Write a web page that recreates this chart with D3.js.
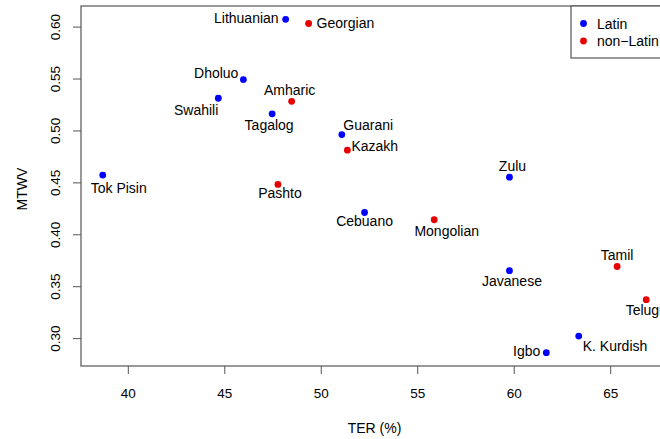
<!DOCTYPE html>
<html>
<head>
<meta charset="utf-8">
<script src="https://cdn.jsdelivr.net/npm/d3@7"></script>
<style>
  html, body { margin: 0; padding: 0; background: #fff; }
  svg { display: block; font-family: 'Liberation Sans', Arial, Helvetica, sans-serif; }
</style>
</head>
<body>
<div id="chart"></div>
<script>
// languages: TER (%) vs MTWV, coloured by script
const languages = ['Lithuanian', 'Georgian', 'Dholuo', 'Swahili', 'Amharic', 'Tagalog', 'Tok Pisin',
  'Pashto', 'Guarani', 'Kazakh', 'Zulu', 'Cebuano', 'Mongolian', 'Javanese', 'Tamil', 'Telugu',
  'K. Kurdish', 'Igbo'];
const ter = [48.18, 49.37, 45.99, 44.69, 48.49, 47.48, 38.70, 47.78, 51.09, 51.38, 59.78, 52.27,
  55.88, 59.78, 65.36, 66.87, 63.37, 61.69];
const mtwv = [0.607, 0.603, 0.549, 0.531, 0.528, 0.516, 0.457, 0.448, 0.496, 0.481, 0.455, 0.421,
  0.414, 0.365, 0.369, 0.337, 0.302, 0.286];
const script = ['Latin', 'non-Latin', 'Latin', 'Latin', 'non-Latin', 'Latin', 'Latin', 'non-Latin',
  'Latin', 'non-Latin', 'Latin', 'Latin', 'non-Latin', 'Latin', 'non-Latin', 'non-Latin', 'Latin', 'Latin'];
const legendLabels = ['Latin', 'non\u2212Latin'];
const xTicks = [40, 45, 50, 55, 60, 65];
const yTicks = [0.30, 0.35, 0.40, 0.45, 0.50, 0.55, 0.60];

// label placement next to each point: [dx, dy, anchor]
const labelPos = {
  'Lithuanian': [-7, -1, 'end'], 'Georgian': [8, 0, 'start'], 'Dholuo': [-5, -7, 'end'],
  'Swahili': [0, 12, 'end'], 'Amharic': [-2, -11, 'middle'], 'Tagalog': [-3, 11, 'middle'],
  'Tok Pisin': [-12, 12.5, 'start'], 'Pashto': [2, 9, 'middle'], 'Guarani': [1.5, -10, 'start'],
  'Kazakh': [4, -4, 'start'], 'Zulu': [3, -11, 'middle'], 'Cebuano': [0, 9, 'middle'],
  'Mongolian': [12.5, 11, 'middle'], 'Javanese': [2.5, 10, 'middle'], 'Tamil': [0, -11, 'middle'],
  'Telugu': [0, 10, 'middle'], 'K. Kurdish': [4, 10, 'start'], 'Igbo': [-6, -2, 'end'],
};

const W = 660, H = 439;
const margin = { top: 6, right: -8, bottom: 73, left: 81 };
const innerW = W - margin.left - margin.right;
const innerH = H - margin.top - margin.bottom;
const color = d => d === 'Latin' ? '#0000ff' : '#e60000';
const axisCol = '#555';

const svg = d3.select('#chart').append('svg').attr('width', W).attr('height', H);
const g = svg.append('g').attr('transform', `translate(${margin.left},${margin.top})`);

// R-style 4% padding around the data range
const xPad = (d3.max(ter) - d3.min(ter)) * 0.04;
const yPad = (d3.max(mtwv) - d3.min(mtwv)) * 0.04;
const x = d3.scaleLinear().domain([d3.min(ter) - xPad, d3.max(ter) + xPad]).range([0, innerW]);
const y = d3.scaleLinear().domain([d3.min(mtwv) - yPad, d3.max(mtwv) + yPad]).range([innerH, 0]);

// axes
const xa = g.append('g').attr('transform', `translate(0,${innerH})`)
  .call(d3.axisBottom(x).tickValues(xTicks).tickSize(8).tickSizeOuter(0).tickPadding(14));
const ya = g.append('g')
  .call(d3.axisLeft(y).tickValues(yTicks).tickFormat(d3.format('.2f')).tickSize(8).tickSizeOuter(0));
[xa, ya].forEach(a => {
  a.select('.domain').remove();
  a.selectAll('line').attr('stroke', axisCol);
  a.selectAll('text').style('font-size', '13.5px').attr('fill', '#000')
    .style('font-family', "'Liberation Sans', Arial, sans-serif");
});
ya.selectAll('text')
  .attr('x', null).attr('dy', null).attr('text-anchor', 'middle')
  .attr('transform', 'translate(-26,0) rotate(-90)').attr('dominant-baseline', 'central');

// plot box
g.append('rect').attr('x', 0).attr('y', 0).attr('width', innerW).attr('height', innerH)
  .attr('fill', 'none').attr('stroke', axisCol).attr('stroke-width', 1.2);

// axis titles
svg.append('text').attr('x', margin.left + innerW / 2).attr('y', 428)
  .attr('text-anchor', 'middle').attr('dominant-baseline', 'central')
  .style('font-size', '14px').text('TER (%)');
svg.append('text').attr('transform', `translate(22,${margin.top + innerH / 2 + 3}) rotate(-90)`)
  .attr('text-anchor', 'middle').attr('dominant-baseline', 'central')
  .style('font-size', '14px').text('MTWV');

// points + labels
const pts = languages.map((n, i) => ({ name: n, t: ter[i], m: mtwv[i], s: script[i] }));
g.selectAll('.pt').data(pts).enter().append('circle')
  .attr('cx', d => x(d.t)).attr('cy', d => y(d.m)).attr('r', 3.4)
  .attr('fill', d => color(d.s));
g.selectAll('.lbl').data(pts).enter().append('text')
  .attr('x', d => x(d.t) + labelPos[d.name][0])
  .attr('y', d => y(d.m) + labelPos[d.name][1])
  .attr('text-anchor', d => labelPos[d.name][2])
  .attr('dominant-baseline', 'central')
  .style('font-size', '14px').text(d => d.name);

// legend
const lg = svg.append('g').attr('transform', `translate(571,${margin.top})`);
lg.append('rect').attr('x', 0).attr('y', 0).attr('width', 120).attr('height', 52)
  .attr('fill', '#fff').attr('stroke', axisCol).attr('stroke-width', 1.2);
legendLabels.forEach((t, i) => {
  const cy = 17.5 + i * 17.5;
  lg.append('circle').attr('cx', 12.5).attr('cy', cy).attr('r', 3.4).attr('fill', color(i === 0 ? 'Latin' : 'non-Latin'));
  lg.append('text').attr('x', 26).attr('y', cy).attr('dominant-baseline', 'central')
    .style('font-size', '14px').text(t);
});
</script>
</body>
</html>
